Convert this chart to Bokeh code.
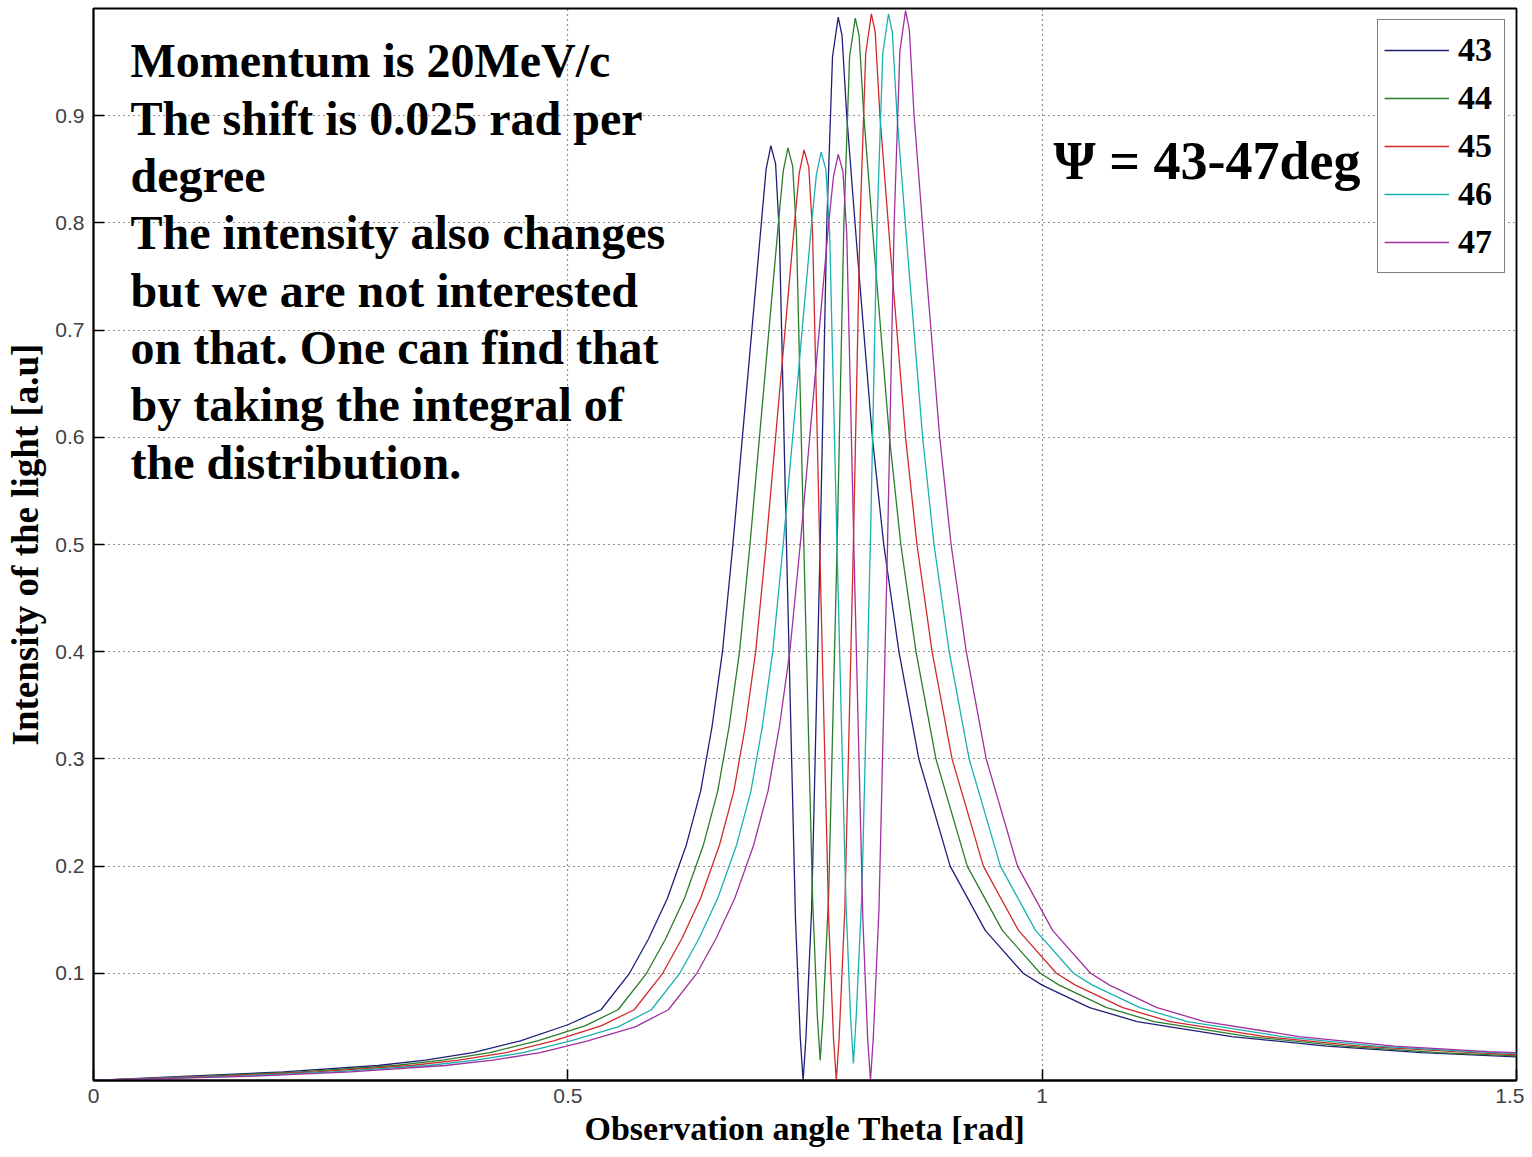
from bokeh.plotting import figure
from bokeh.models import FixedTicker, Legend, LegendItem, Label, Range1d
from bokeh.embed import file_html
from bokeh.resources import INLINE

# ---------------- data ----------------
series_names = ["43", "44", "45", "46", "47"]

theta_43 = [0.000, 0.100, 0.200, 0.300, 0.350, 0.400, 0.450, 0.500, 0.535, 0.565, 0.585, 0.605, 0.625,
            0.640, 0.652, 0.663, 0.674, 0.684, 0.694, 0.704, 0.709, 0.714, 0.719, 0.723, 0.731, 0.740,
            0.745, 0.748, 0.751, 0.757, 0.766, 0.773, 0.779, 0.785, 0.789, 0.794, 0.805, 0.821, 0.833,
            0.849, 0.870, 0.903, 0.940, 0.980, 1.000, 1.050, 1.100, 1.200, 1.300, 1.400, 1.500]
int_43 = [0.000, 0.004, 0.008, 0.014, 0.019, 0.026, 0.037, 0.052, 0.066, 0.100, 0.132, 0.170, 0.220,
          0.270, 0.330, 0.400, 0.500, 0.600, 0.700, 0.800, 0.850, 0.872, 0.855, 0.790, 0.480, 0.150,
          0.040, 0.000, 0.040, 0.160, 0.500, 0.800, 0.955, 0.992, 0.975, 0.900, 0.774, 0.600, 0.500,
          0.400, 0.300, 0.200, 0.140, 0.100, 0.089, 0.068, 0.055, 0.041, 0.032, 0.026, 0.022]

theta_44 = [0.000, 0.118, 0.218, 0.318, 0.368, 0.418, 0.468, 0.518, 0.553, 0.583, 0.603, 0.623, 0.643,
            0.658, 0.670, 0.681, 0.692, 0.702, 0.712, 0.722, 0.727, 0.732, 0.737, 0.741, 0.749, 0.758,
            0.763, 0.766, 0.769, 0.775, 0.784, 0.791, 0.797, 0.803, 0.807, 0.812, 0.823, 0.839, 0.851,
            0.867, 0.888, 0.921, 0.958, 0.998, 1.018, 1.068, 1.118, 1.218, 1.318, 1.418, 1.500]
int_44 = [0.000, 0.004, 0.008, 0.014, 0.019, 0.026, 0.037, 0.051, 0.066, 0.100, 0.132, 0.170, 0.220,
          0.270, 0.330, 0.400, 0.500, 0.600, 0.700, 0.800, 0.848, 0.870, 0.853, 0.790, 0.490, 0.170,
          0.060, 0.019, 0.060, 0.175, 0.505, 0.800, 0.955, 0.991, 0.975, 0.900, 0.774, 0.600, 0.500,
          0.400, 0.300, 0.200, 0.140, 0.100, 0.089, 0.068, 0.055, 0.041, 0.032, 0.026, 0.023]

theta_45 = [0.000, 0.135, 0.235, 0.335, 0.385, 0.435, 0.485, 0.535, 0.570, 0.600, 0.620, 0.640, 0.660,
            0.675, 0.687, 0.698, 0.709, 0.719, 0.729, 0.739, 0.744, 0.749, 0.754, 0.758, 0.766, 0.775,
            0.780, 0.783, 0.786, 0.792, 0.801, 0.808, 0.814, 0.820, 0.824, 0.829, 0.840, 0.856, 0.868,
            0.884, 0.905, 0.938, 0.975, 1.015, 1.035, 1.085, 1.135, 1.235, 1.335, 1.435, 1.500]
int_45 = [0.000, 0.004, 0.008, 0.014, 0.019, 0.026, 0.037, 0.051, 0.066, 0.100, 0.132, 0.170, 0.220,
          0.270, 0.330, 0.400, 0.500, 0.600, 0.700, 0.800, 0.847, 0.868, 0.852, 0.790, 0.480, 0.150,
          0.040, 0.000, 0.040, 0.160, 0.500, 0.800, 0.958, 0.995, 0.978, 0.900, 0.774, 0.600, 0.500,
          0.400, 0.300, 0.200, 0.140, 0.100, 0.089, 0.068, 0.055, 0.041, 0.032, 0.027, 0.024]

theta_46 = [0.000, 0.153, 0.253, 0.353, 0.403, 0.453, 0.503, 0.553, 0.588, 0.618, 0.638, 0.658, 0.678,
            0.693, 0.705, 0.716, 0.727, 0.737, 0.747, 0.757, 0.762, 0.767, 0.772, 0.776, 0.784, 0.793,
            0.798, 0.801, 0.804, 0.810, 0.819, 0.826, 0.832, 0.838, 0.842, 0.847, 0.858, 0.874, 0.886,
            0.902, 0.923, 0.956, 0.993, 1.033, 1.053, 1.103, 1.153, 1.253, 1.353, 1.453, 1.500]
int_46 = [0.000, 0.004, 0.008, 0.014, 0.019, 0.026, 0.037, 0.050, 0.066, 0.100, 0.132, 0.170, 0.220,
          0.270, 0.330, 0.400, 0.500, 0.600, 0.700, 0.800, 0.845, 0.866, 0.850, 0.790, 0.490, 0.170,
          0.060, 0.016, 0.060, 0.175, 0.505, 0.800, 0.958, 0.995, 0.978, 0.900, 0.774, 0.600, 0.500,
          0.400, 0.300, 0.200, 0.140, 0.100, 0.089, 0.068, 0.055, 0.041, 0.032, 0.027, 0.025]

theta_47 = [0.000, 0.171, 0.271, 0.371, 0.421, 0.471, 0.521, 0.571, 0.606, 0.636, 0.656, 0.676, 0.696,
            0.711, 0.723, 0.734, 0.745, 0.755, 0.765, 0.775, 0.780, 0.785, 0.790, 0.794, 0.802, 0.811,
            0.816, 0.819, 0.822, 0.828, 0.837, 0.844, 0.850, 0.856, 0.860, 0.865, 0.876, 0.892, 0.904,
            0.920, 0.941, 0.974, 1.011, 1.051, 1.071, 1.121, 1.171, 1.271, 1.371, 1.471, 1.500]
int_47 = [0.000, 0.004, 0.008, 0.014, 0.019, 0.026, 0.037, 0.050, 0.066, 0.100, 0.132, 0.170, 0.220,
          0.270, 0.330, 0.400, 0.500, 0.600, 0.700, 0.800, 0.843, 0.864, 0.848, 0.790, 0.480, 0.150,
          0.040, 0.000, 0.040, 0.160, 0.500, 0.800, 0.960, 0.998, 0.980, 0.900, 0.774, 0.600, 0.500,
          0.400, 0.300, 0.200, 0.140, 0.100, 0.089, 0.068, 0.055, 0.041, 0.032, 0.027, 0.026]

x_ticks = [0, 0.5, 1.0, 1.5]
x_tick_labels = ["0", "0.5", "1", "1.5"]
y_ticks = [0.1, 0.2, 0.3, 0.4, 0.5, 0.6, 0.7, 0.8, 0.9]
y_tick_labels = ["0.1", "0.2", "0.3", "0.4", "0.5", "0.6", "0.7", "0.8", "0.9"]

x_title = "Observation angle Theta [rad]"
y_title = "Intensity of the light [a.u]"
note_lines = ["Momentum is 20MeV/c", "The shift is 0.025 rad per", "degree",
              "The intensity also changes", "but we are not interested",
              "on that. One can find that", "by taking the integral of", "the distribution."]
psi_text = "\u03a8 = 43-47deg"

# ---------------- styling ----------------
colors = ["#1f1f7a", "#2a7d2a", "#d12a2a", "#1ab0b0", "#a0309f"]
SERIF = "Liberation Serif"
SANS = "Liberation Sans"

p = figure(width=1524, height=1156,
           x_range=Range1d(0, 1.5), y_range=Range1d(0, 1.0),
           output_backend="svg", toolbar_location=None,
           min_border_left=93, min_border_right=8, min_border_top=8, min_border_bottom=76,
           background_fill_color="white", border_fill_color="white")

p.outline_line_color = "black"
p.outline_line_width = 1.8

# grids
p.xgrid.ticker = FixedTicker(ticks=[0.5, 1.0])
p.ygrid.ticker = FixedTicker(ticks=y_ticks)
for g in (p.xgrid, p.ygrid):
    g.grid_line_color = "black"
    g.grid_line_alpha = 0.85
    g.grid_line_dash = "1 4"
    g.grid_line_width = 1.2

# axes
xa = p.xaxis[0]
xa.ticker = FixedTicker(ticks=x_ticks)
xa.major_label_overrides = dict(zip(x_ticks, x_tick_labels))
ya = p.yaxis[0]
ya.ticker = FixedTicker(ticks=y_ticks)
ya.major_label_overrides = dict(zip(y_ticks, y_tick_labels))
xa.axis_label = x_title
ya.axis_label = y_title
for ax in (xa, ya):
    ax.major_tick_in = 11
    ax.major_tick_out = 0
    ax.minor_tick_line_color = None
    ax.axis_line_color = "black"
    ax.axis_line_width = 1.8
    ax.major_tick_line_color = "black"
    ax.major_tick_line_width = 1.5
    ax.major_label_text_font = SANS
    ax.major_label_text_font_size = "21px"
    ax.major_label_text_color = "#404040"
    ax.major_label_standoff = 9
    ax.axis_label_text_font = SERIF
    ax.axis_label_text_font_style = "bold"
    ax.axis_label_text_color = "black"
xa.major_label_standoff = 8
xa.axis_label_text_font_size = "34px"
xa.axis_label_standoff = 4
ya.axis_label_text_font_size = "37px"
ya.axis_label_standoff = 6

# curves
thetas = [theta_43, theta_44, theta_45, theta_46, theta_47]
ints = [int_43, int_44, int_45, int_46, int_47]
renderers = []
for name, xs, ys, c in zip(series_names, thetas, ints, colors):
    r = p.line(xs, ys, line_color=c, line_width=1.3)
    renderers.append(r)

legend = Legend(items=[LegendItem(label=n, renderers=[r]) for n, r in zip(series_names, renderers)],
                location="top_right")
legend.label_text_font = SERIF
legend.label_text_font_style = "bold"
legend.label_text_font_size = "34px"
legend.label_text_color = "black"
legend.glyph_width = 65
legend.glyph_height = 48
legend.label_standoff = 9
legend.label_width = 40
legend.padding = 6
legend.spacing = 0
legend.margin = 11
legend.border_line_color = "black"
legend.border_line_width = 1.5
legend.background_fill_color = "white"
legend.background_fill_alpha = 1.0
p.add_layout(legend)

# annotation block
top_y = 0.9513
step = 0.05352
for i, line in enumerate(note_lines):
    p.add_layout(Label(x=0.039, y=top_y - i * step, text=line,
                       text_font=SERIF, text_font_style="bold", text_font_size="48px",
                       text_color="black", text_baseline="middle", text_align="left"))

p.add_layout(Label(x=1.012, y=0.858, text=psi_text,
                   text_font=SERIF, text_font_style="bold", text_font_size="54px",
                   text_color="black", text_baseline="middle", text_align="left"))

open("out.html", "w").write(file_html(p, INLINE))
